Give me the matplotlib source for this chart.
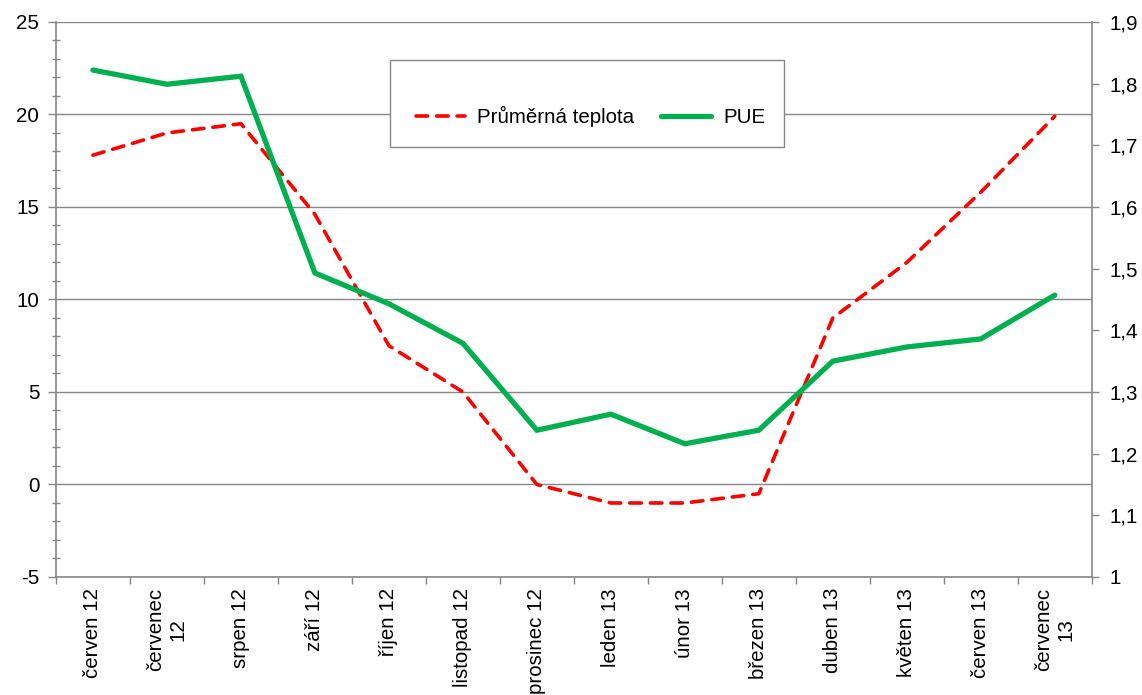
import matplotlib.pyplot as plt
from matplotlib.patches import Rectangle
from matplotlib.ticker import FixedLocator, MultipleLocator, FuncFormatter
import numpy as np

plt.rcParams['font.family'] = ['Liberation Sans', 'DejaVu Sans']
plt.rcParams['axes.unicode_minus'] = False

# Data
months = ['červen 12', 'červenec\n12', 'srpen 12', 'září 12', 'říjen 12', 'listopad 12',
          'prosinec 12', 'leden 13', 'únor 13', 'březen 13', 'duben 13', 'květen 13',
          'červen 13', 'červenec\n13']
teplota = [17.8, 19.0, 19.5, 14.6, 7.5, 5.0, 0.0, -1.0, -1.0, -0.5, 9.0, 12.0, 15.8, 19.9]
pue = [1.822, 1.799, 1.812, 1.493, 1.443, 1.379, 1.238, 1.264, 1.216, 1.238, 1.350,
       1.373, 1.386, 1.457]

axis_col = '#868686'
fs = 14.8


def pue_fmt(v, pos):
    if abs(v - round(v)) < 1e-9:
        return f'{v:.0f}'
    return f'{v:.1f}'.replace('.', ',')


fig = plt.figure(figsize=(11.42, 6.95), dpi=100)
ax1 = fig.add_axes([0.049, 0.1698, 0.907, 0.7986])
ax2 = ax1.twinx()

x = np.arange(len(months))
l1, = ax1.plot(x, teplota, color='#FF0000', linewidth=2.6, linestyle=(0, (3.2, 2.5)),
               dash_capstyle='round', label='Průměrná teplota', zorder=3)
l2, = ax2.plot(x, pue, color='#00B050', linewidth=3.8, solid_capstyle='round',
               solid_joinstyle='miter', label='PUE', zorder=3)

ax1.set_xlim(-0.5, len(months) - 0.5)
ax1.set_ylim(-5, 25)
ax2.set_ylim(1.0, 1.9)

# left axis
ax1.yaxis.set_major_locator(MultipleLocator(5))
ax1.yaxis.set_minor_locator(MultipleLocator(1))
ax1.grid(axis='y', which='major', color=axis_col, linewidth=1)
ax1.set_axisbelow(True)
ax1.tick_params(axis='y', which='major', direction='out', length=6, width=1,
                color=axis_col, labelsize=fs, pad=6)
ax1.tick_params(axis='y', which='minor', direction='inout', length=6, width=1,
                color=axis_col)

# right axis
ax2.yaxis.set_major_locator(MultipleLocator(0.1))
ax2.yaxis.set_major_formatter(FuncFormatter(pue_fmt))
ax2.tick_params(axis='y', direction='out', length=5, width=1, color=axis_col,
                labelsize=fs, pad=8)

# x axis
ax1.set_xticks(x)
ax1.set_xticklabels(months, rotation=90, fontsize=fs, va='top', ha='center',
                    multialignment='center')
ax1.xaxis.set_minor_locator(FixedLocator(np.arange(-0.5, len(months), 1)))
ax1.tick_params(axis='x', which='major', length=0, pad=8)
ax1.tick_params(axis='x', which='minor', direction='out', length=5, width=1,
                color=axis_col)

for ax in (ax1, ax2):
    ax.spines['top'].set_visible(False)
    for s in ('left', 'right', 'bottom'):
        ax.spines[s].set_color(axis_col)
        ax.spines[s].set_linewidth(1.2)
ax1.spines['right'].set_visible(False)
ax2.spines['left'].set_visible(False)
ax2.spines['bottom'].set_visible(False)

# legend box (square, gray border) and entries
ax2.add_patch(Rectangle((0.3224, 0.7748), 0.3803, 0.1567, transform=ax2.transAxes,
                        facecolor='white', edgecolor=axis_col, linewidth=1, zorder=4))
leg = ax2.legend(handles=[l1, l2], loc='center', ncol=2, bbox_to_anchor=(0.516, 0.829),
                 fontsize=fs, frameon=False, handlelength=2.4, handletextpad=0.6,
                 columnspacing=1.3, borderpad=0, borderaxespad=0)
leg.set_zorder(5)

fig.savefig('out.png', dpi=100)
